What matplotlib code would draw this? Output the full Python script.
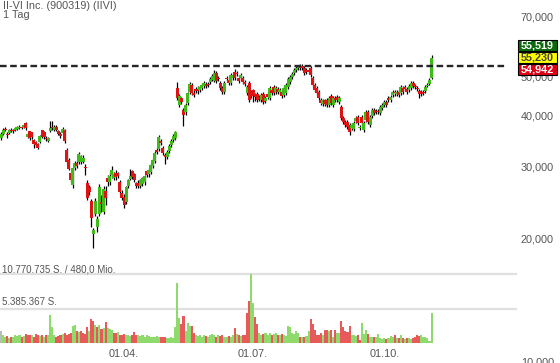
import matplotlib.pyplot as plt
import numpy as np
from matplotlib.patches import Rectangle
from matplotlib.ticker import NullLocator

plt.rcParams['font.family'] = ['Liberation Sans', 'DejaVu Sans']

# Tageskerzen (Open / High / Low / Close)
opens = [35.3, 36.1, 37.2, 36.1, 36.4, 37.0, 37.0, 37.0, 37.2, 37.4,
         37.6, 37.6, 38.5, 35.5, 36.6, 36.4, 34.9, 34.5, 34.1, 34.5,
         36.8, 36.4, 35.3, 34.7, 36.8, 37.6, 37.0, 37.6, 36.6, 36.1,
         36.4, 36.8, 33.0, 31.2, 28.9, 27.1, 29.8, 30.7, 30.8, 30.8,
         30.8, 30.0, 27.3, 26.7, 24.7, 20.6, 23.0, 21.4, 23.0, 24.6,
         23.2, 26.2, 28.1, 27.6, 28.7, 28.2, 29.0, 28.9, 27.5, 25.9,
         25.3, 24.6, 27.0, 28.1, 29.2, 28.7, 27.3, 27.3, 27.0, 27.3,
         27.5, 29.2, 28.9, 29.2, 30.2, 31.0, 33.0, 33.2, 34.7, 33.3,
         32.1, 31.7, 32.8, 33.9, 34.9, 35.3, 46.8, 42.6, 44.1, 41.4,
         40.9, 43.1, 45.8, 47.6, 45.5, 46.5, 46.5, 46.3, 46.8, 47.3,
         47.9, 47.9, 48.5, 49.0, 48.7, 51.0, 49.6, 48.2, 46.8, 45.8,
         49.6, 49.0, 48.2, 49.6, 51.3, 51.0, 49.6, 49.6, 49.6, 48.5,
         45.5, 48.2, 45.8, 46.3, 45.3, 45.3, 44.5, 43.8, 45.3, 43.6,
         45.3, 44.3, 46.3, 47.0, 45.8, 46.5, 45.8, 45.8, 45.0, 45.5,
         47.0, 48.5, 49.8, 51.0, 51.9, 52.5, 53.1, 53.1, 52.5, 51.9,
         51.9, 52.5, 49.6, 47.6, 46.8, 45.8, 43.8, 42.9, 43.6, 43.8,
         42.6, 44.8, 42.6, 44.3, 44.5, 43.3, 42.1, 39.6, 38.7, 38.7,
         38.0, 37.4, 37.2, 38.9, 39.8, 37.4, 39.8, 37.0, 39.1, 40.9,
         38.0, 40.0, 41.4, 41.2, 41.2, 40.7, 41.9, 42.6, 43.3, 44.3,
         43.8, 45.0, 45.8, 45.3, 45.8, 45.5, 46.8, 47.0, 46.5, 46.3,
         46.8, 48.2, 47.3, 46.8, 46.0, 45.8, 45.8, 46.0, 47.3, 47.9,
         49.6]
closes = [36.1, 37.0, 37.0, 35.9, 37.0, 36.8, 36.8, 37.4, 37.6, 37.6,
          37.4, 38.0, 37.4, 36.1, 35.3, 35.5, 34.1, 33.9, 33.3, 35.7,
          35.5, 35.5, 35.1, 35.3, 37.4, 37.4, 37.6, 37.0, 36.1, 35.7,
          37.2, 34.7, 30.8, 29.7, 27.9, 29.7, 30.7, 30.2, 32.2, 31.9,
          31.5, 29.8, 25.2, 26.1, 22.5, 21.0, 24.7, 22.3, 26.8, 24.3,
          26.4, 25.2, 27.5, 28.4, 29.5, 28.7, 28.4, 28.5, 26.1, 25.2,
          24.2, 26.7, 27.8, 28.5, 28.4, 27.9, 27.0, 27.0, 27.8, 28.1,
          28.4, 28.7, 29.5, 30.3, 31.2, 32.4, 32.6, 35.5, 34.3, 32.4,
          31.7, 32.6, 33.7, 34.7, 35.7, 36.4, 44.3, 44.8, 43.3, 40.2,
          42.6, 45.5, 47.9, 45.5, 45.0, 46.0, 46.0, 47.0, 47.6, 48.2,
          47.3, 47.6, 49.3, 50.1, 51.0, 48.7, 49.3, 46.8, 45.8, 48.2,
          49.3, 48.2, 50.4, 50.4, 49.6, 50.7, 48.7, 50.4, 48.5, 47.9,
          47.0, 43.8, 44.8, 45.0, 44.5, 43.8, 44.1, 45.0, 43.3, 44.3,
          44.5, 46.8, 45.5, 45.5, 46.8, 45.8, 46.3, 44.8, 46.8, 47.6,
          49.3, 49.8, 50.7, 51.9, 52.5, 52.8, 52.5, 52.5, 51.0, 51.3,
          51.3, 50.4, 47.6, 46.3, 45.5, 44.3, 43.1, 43.6, 42.9, 42.6,
          44.3, 43.1, 44.3, 43.8, 43.8, 44.3, 39.6, 38.7, 38.0, 37.6,
          36.6, 38.0, 38.5, 39.6, 38.5, 37.6, 38.5, 38.5, 40.9, 38.7,
          39.8, 41.4, 40.7, 40.9, 40.9, 42.1, 42.6, 43.3, 42.6, 43.8,
          44.5, 45.8, 45.5, 45.8, 45.0, 47.0, 45.8, 46.5, 45.8, 47.3,
          48.2, 47.3, 47.0, 46.5, 45.3, 45.3, 45.5, 47.0, 47.6, 49.0,
          55.5]
highs = [36.6, 37.4, 37.6, 36.6, 37.2, 37.4, 37.2, 37.6, 37.8, 38.0,
         37.8, 38.2, 38.7, 36.4, 36.8, 36.6, 35.1, 34.7, 34.3, 35.9,
         37.0, 36.8, 35.7, 35.5, 38.9, 38.9, 38.0, 38.0, 37.0, 36.6,
         37.6, 37.2, 33.3, 31.5, 29.2, 30.0, 31.0, 31.2, 32.6, 32.1,
         32.1, 30.5, 27.9, 27.1, 25.0, 21.2, 25.2, 22.7, 27.3, 25.6,
         27.0, 27.0, 28.7, 29.2, 30.2, 29.2, 29.5, 29.2, 27.8, 26.4,
         25.8, 27.0, 28.1, 29.7, 29.5, 29.0, 27.6, 27.8, 28.1, 28.4,
         28.7, 29.5, 29.8, 30.7, 31.5, 32.8, 33.3, 35.9, 35.1, 33.7,
         32.4, 33.0, 34.1, 35.1, 36.1, 36.8, 48.5, 45.3, 44.5, 41.9,
         43.1, 45.8, 48.5, 48.2, 46.3, 47.0, 47.3, 47.6, 48.2, 48.7,
         48.5, 48.5, 49.8, 50.7, 51.9, 51.6, 50.1, 48.7, 47.3, 48.7,
         50.1, 49.6, 51.0, 50.7, 52.2, 51.6, 50.1, 51.0, 50.1, 49.0,
         47.6, 48.7, 46.3, 46.5, 45.5, 45.8, 45.0, 45.5, 45.8, 44.8,
         45.8, 47.3, 46.8, 47.6, 47.3, 47.0, 46.8, 46.3, 47.3, 48.2,
         49.8, 50.4, 51.3, 52.5, 53.1, 53.4, 53.7, 53.7, 53.1, 52.5,
         52.5, 53.1, 50.1, 48.2, 47.3, 46.3, 44.3, 44.1, 44.1, 44.3,
         44.8, 45.3, 44.8, 44.8, 45.0, 44.8, 42.6, 40.0, 39.1, 39.1,
         38.5, 38.5, 38.9, 40.0, 40.2, 38.0, 40.2, 38.9, 41.4, 41.4,
         40.2, 41.9, 41.9, 41.7, 41.7, 42.6, 43.1, 43.8, 43.8, 44.8,
         45.0, 46.3, 46.3, 46.3, 46.3, 47.6, 47.3, 47.6, 47.0, 47.9,
         48.7, 48.7, 47.9, 47.3, 46.5, 46.3, 46.3, 47.6, 48.2, 49.6,
         56.4]
lows = [34.9, 35.9, 36.8, 35.3, 36.1, 36.6, 36.4, 36.8, 37.0, 37.2,
        37.2, 37.4, 37.0, 35.3, 34.9, 35.1, 33.3, 33.5, 33.2, 34.3,
        35.3, 35.1, 34.7, 34.5, 36.6, 37.0, 36.8, 36.8, 35.9, 35.3,
        36.1, 34.3, 30.5, 29.5, 27.6, 26.7, 29.5, 29.8, 30.5, 30.5,
        30.7, 28.7, 24.9, 25.6, 21.4, 19.0, 22.7, 20.8, 22.7, 23.2,
        23.0, 24.2, 27.0, 27.1, 28.2, 27.8, 27.9, 28.2, 25.8, 24.9,
        23.8, 24.3, 26.7, 27.8, 28.1, 27.6, 26.7, 26.7, 26.7, 27.0,
        27.1, 28.4, 28.4, 28.9, 29.8, 30.7, 32.2, 32.8, 33.9, 32.1,
        30.5, 31.4, 32.4, 33.5, 34.5, 34.9, 43.8, 42.1, 42.9, 37.8,
        40.2, 42.6, 45.3, 45.0, 44.5, 45.5, 45.3, 45.8, 46.3, 46.8,
        46.8, 47.0, 47.9, 48.7, 48.5, 48.2, 48.7, 46.3, 45.3, 45.3,
        48.7, 47.6, 47.6, 49.0, 49.0, 50.1, 48.2, 49.0, 47.9, 47.3,
        45.0, 43.3, 44.3, 43.3, 43.6, 43.3, 43.6, 43.3, 42.9, 43.1,
        44.1, 43.8, 45.0, 45.0, 45.3, 45.3, 45.3, 44.3, 44.5, 45.0,
        46.5, 47.9, 49.3, 50.4, 51.3, 51.9, 51.9, 51.9, 50.4, 50.7,
        50.7, 49.8, 47.0, 45.8, 45.0, 43.8, 42.6, 42.4, 42.4, 42.1,
        42.1, 42.6, 42.1, 43.3, 43.3, 42.9, 39.1, 38.2, 37.6, 37.2,
        35.9, 37.0, 36.8, 38.5, 38.0, 37.0, 38.0, 36.6, 38.7, 38.2,
        37.6, 39.6, 40.2, 40.5, 40.5, 40.2, 41.4, 42.1, 42.1, 43.3,
        43.3, 44.5, 44.8, 44.8, 44.5, 45.0, 45.3, 46.0, 45.3, 45.8,
        46.3, 46.8, 46.5, 46.0, 44.3, 44.8, 45.0, 45.5, 47.0, 47.6,
        49.3]

# Umsatz in Mio. Stueck
volumes = [1.8, 1.2, 0.9, 1.1, 0.8, 0.9, 1.0, 1.3, 1.1, 1.2,
           1.0, 1.1, 1.4, 1.2, 1.3, 1.2, 1.0, 1.4, 1.2, 1.1,
           1.3, 1.0, 1.2, 1.3, 4.4, 2.5, 1.2, 1.0, 1.1, 1.3,
           1.4, 1.5, 1.3, 1.4, 1.6, 2.6, 2.8, 1.8, 1.7, 1.8,
           1.6, 1.4, 2.5, 1.8, 3.7, 3.5, 2.8, 2.5, 2.8, 2.2,
           2.4, 3.3, 2.3, 2.2, 2.0, 1.6, 1.5, 1.7, 1.3, 1.2,
           1.4, 1.3, 1.2, 1.1, 1.3, 1.7, 1.2, 1.3, 1.1, 1.2,
           1.0, 1.2, 1.1, 1.0, 0.9, 1.0, 1.1, 0.9, 1.0, 0.9,
           1.0, 0.8, 0.8, 0.9, 0.8, 2.5, 9.4, 3.9, 2.9, 4.2,
           1.9, 3.2, 2.6, 2.6, 1.6, 1.3, 1.1, 1.2, 1.0, 1.3,
           1.1, 1.0, 1.2, 1.4, 1.3, 1.0, 1.2, 1.1, 1.3, 1.0,
           0.9, 1.1, 1.0, 1.2, 2.3, 1.4, 1.2, 1.1, 1.3, 1.2,
           4.7, 6.5, 10.770735, 6.2, 4.0, 3.0, 1.6, 1.3, 1.4, 1.5,
           1.3, 1.6, 1.2, 1.4, 1.5, 1.2, 1.3, 1.4, 1.2, 1.1,
           2.7, 2.5, 1.5, 1.4, 1.8, 1.5, 1.0, 0.9, 1.0, 1.1,
           1.8, 3.8, 2.9, 2.0, 1.3, 1.2, 1.6, 1.3, 2.0, 2.1,
           1.9, 2.0, 1.0, 2.1, 1.6, 1.5, 3.4, 2.5, 1.8, 1.7,
           2.6, 1.3, 1.2, 1.1, 1.2, 0.5, 3.2, 1.4, 2.0, 1.4,
           1.0, 0.9, 0.9, 1.0, 1.4, 0.8, 0.7, 0.8, 0.7, 0.8,
           1.1, 1.0, 1.2, 0.8, 0.8, 1.3, 0.8, 0.7, 0.8, 0.8,
           0.7, 0.8, 1.0, 1.2, 1.1, 1.3, 1.0, 0.9, 0.8, 0.3,
           4.7]

price_ticks = [10, 20, 30, 40, 50, 60, 70]
price_labels = ["10,000", "20,000", "30,000", "40,000", "50,000", "60,000", "70,000"]
date_pos = [60, 123, 187]
date_labels = ["01.04.", "01.07.", "01.10."]
level = 53.0
quote_labels = ["55,519", "55,230", "54,942"]
vol_max = 10.770735
vol_labels = ["10.770.735 S. / 480,0 Mio.", "5.385.367 S."]

W, H = 560, 363
fig = plt.figure(figsize=(W / 100, H / 100), dpi=100)

x = np.arange(len(closes))
o = np.array(opens)
c = np.array(closes)
up = c >= o
green = '#3fba18'
red = '#dd1414'

# Kurschart (log), ueber die ganze Hoehe
ax = fig.add_axes([0, 0, 516 / W, 1])
ax.set_yscale('log')
ax.set_ylim(9.92, 76.97)
ax.set_xlim(-0.5, 251.2)
ax.vlines(x, lows, highs, color='black', lw=0.9, zorder=2)
ax.bar(x, np.abs(c - o) + 0.05, bottom=np.minimum(o, c), width=1.45,
       color=np.where(up, green, red), zorder=3, linewidth=0)
ax.axhline(level, xmin=0, xmax=507 / 516, color='#262626', lw=1.7,
           dashes=(2.8, 1.5), zorder=4)

ax.yaxis.tick_right()
ax.set_yticks(price_ticks)
ax.set_yticklabels(price_labels)
ax.yaxis.set_minor_locator(NullLocator())
ax.tick_params(axis='y', length=0, pad=3.5, labelsize=7.8, labelcolor='#555555')
ax.set_xticks([])
for s in ax.spines.values():
    s.set_visible(False)

# Umsatz
vax = fig.add_axes([0, 20 / H, 516 / W, 69 / H])
vax.set_facecolor('none')
vax.set_xlim(-0.5, 251.2)
vax.set_ylim(0, vol_max)
vcol = ['#bbbbbb'] + ['#8fda6c' if closes[i] >= closes[i - 1] else '#e85a5a'
                      for i in range(1, len(closes))]
vax.bar(x, volumes, width=1.0, color=vcol, linewidth=0, zorder=2)
for v in [vol_max, vol_max / 2]:
    vax.axhline(v, color='#e0e0e0', lw=1.6, zorder=1, clip_on=False)
vax.text(2 / 516, vol_max, vol_labels[0], transform=vax.get_yaxis_transform(),
         fontsize=7, color='#555555', va='bottom', ha='left')
vax.text(2 / 516, vol_max / 2 + 0.25, vol_labels[1], transform=vax.get_yaxis_transform(),
         fontsize=7, color='#555555', va='bottom', ha='left')
vax.set_xticks(date_pos)
vax.set_xticklabels(date_labels)
vax.set_yticks([])
vax.tick_params(axis='x', length=0, pad=4.5, labelsize=7.8, labelcolor='#555555')
for s in vax.spines.values():
    s.set_visible(False)

# Titel
fig.text(3 / W, 1 - 1 / H, "II-VI Inc. (900319) (IIVI)", fontsize=7.8,
         color='#555555', va='top', ha='left')
fig.text(3 / W, 1 - 10 / H, "1 Tag", fontsize=7.8, color='#555555', va='top', ha='left')

# Kursboxen
box_style = [('#0b6b0b', 'white', 40), ('#ffff00', '#444444', 52), ('#e00016', 'white', 64)]
for txt, (bg, fg, top) in zip(quote_labels, box_style):
    fig.patches.append(Rectangle((518 / W, 1 - (top + 11) / H), 39 / W, 11 / H,
                                 transform=fig.transFigure, facecolor=bg,
                                 edgecolor='black', lw=0.8))
    fig.text(537.5 / W, 1 - (top + 5.7) / H, txt, fontsize=7.8, color=fg,
             ha='center', va='center', fontweight='bold')

fig.savefig('out.png', dpi=100)
